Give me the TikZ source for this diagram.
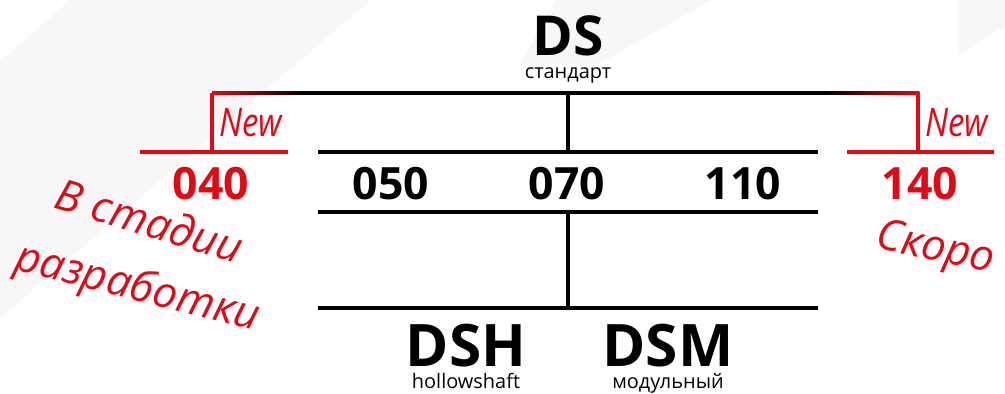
\documentclass[tikz,border=0pt]{standalone}
\usepackage{fontspec}
\setmainfont{Open Sans}
\newfontfamily\handfont{Open Sans}
\usetikzlibrary{positioning,calc}

\definecolor{dsred}{RGB}{225,10,20}
\definecolor{bgband}{RGB}{247,247,247}

\tikzset{
  bar/.style={line width=3.3pt, black},
  redbar/.style={line width=2.6pt, dsred},
  series/.style={font=\fontsize{47}{47}\selectfont\bfseries, inner sep=0pt, anchor=base, text depth=0pt},
  subseries/.style={font=\fontsize{50}{50}\selectfont\bfseries, inner sep=0pt, anchor=base, text depth=0pt},
  caption/.style={font=\fontsize{17}{17}\selectfont, inner sep=0pt, anchor=base, text height=9pt},
  size/.style={font=\fontsize{38}{38}\selectfont\bfseries, inner sep=0pt, anchor=base},
  newsize/.style={size, text=dsred},
  handnote/.style={font=\handfont\itshape\fontsize{37}{37}\selectfont, text=dsred, inner sep=0pt},
  newtag/.style={font=\handfont\itshape\fontsize{28}{28}\selectfont, text=dsred, inner sep=0pt, anchor=base west, yscale=1.2}
}

\begin{document}
\begin{tikzpicture}[x=0.03cm, y=-0.03cm]
    % frame and background bands
    \useasboundingbox (0,0) rectangle (1005,394);
    \fill[white] (0,0) rectangle (1005,394);
    \fill[bgband] (70,0) -- (370,0) -- (0,318) -- (0,62) -- cycle;
    \fill[bgband] (556,0) -- (712,0) -- (598,64) -- (520,64) -- cycle;
    \fill[bgband] (958,0) -- (1005,0) -- (1005,26) -- (958,55) -- cycle;

    % DS head
    \node[series] (ds) at (568,56) {DS};
    \node[caption] (dssub) at (568,79) {стандарт};

    % junction points
    \coordinate (topL) at (212,93);
    \coordinate (topC) at (568,93);
    \coordinate (topR) at (918,93);
    \coordinate (midC) at (568,152);
    \coordinate (lowC) at (568,212);
    \coordinate (botC) at (568,308);

    % top bar, red at both ends
    \shade[left color=dsred, right color=black] (212,91.4) rectangle (305,94.6);
    \fill[black] (304,91.4) rectangle (826,94.6);
    \shade[left color=black, right color=dsred] (825,91.4) rectangle (919.3,94.6);
    \draw[bar] (topC) -- (midC);

    % size row
    \draw[bar] (318,152) -- (midC) -- (818,152);
    \draw[bar] (318,212) -- (lowC) -- (818,212);
    \node[newsize] (n040) at (211,199) {040};
    \node[size] (n050) at (391,199) {050};
    \node[size] (n070) at (567,199) {070};
    \node[size] (n110) at (743,199) {110};
    \node[newsize] (n140) at (920,199) {140};

    % new sizes
    \draw[redbar] (140,152) -- (288,152);
    \draw[redbar] (topL) -- (212,152);
    \draw[redbar] (847,152) -- (994,152);
    \draw[redbar] (topR) -- (918,152);
    \node[newtag] (new040) at (219,137) {New};
    \node[newtag] (new140) at (925,137) {New};
    \node[handnote, rotate=-17] (devnote1) at (150,220) {В стадии};
    \node[handnote, rotate=-14] (devnote2) at (137,289) {разработки};
    \node[handnote, rotate=-12] (soonnote) at (935,250) {Скоро};

    % variants
    \draw[bar] (lowC) -- (botC);
    \draw[bar] (318,308) -- (botC) -- (818,308);
    \node[subseries] (dsh) at (466,366) {DSH};
    \node[caption] (dshsub) at (466,388) {hollowshaft};
    \node[subseries] (dsm) at (668,366) {DSM};
    \node[caption] (dsmsub) at (668,388) {модульный};
\end{tikzpicture}
\end{document}
